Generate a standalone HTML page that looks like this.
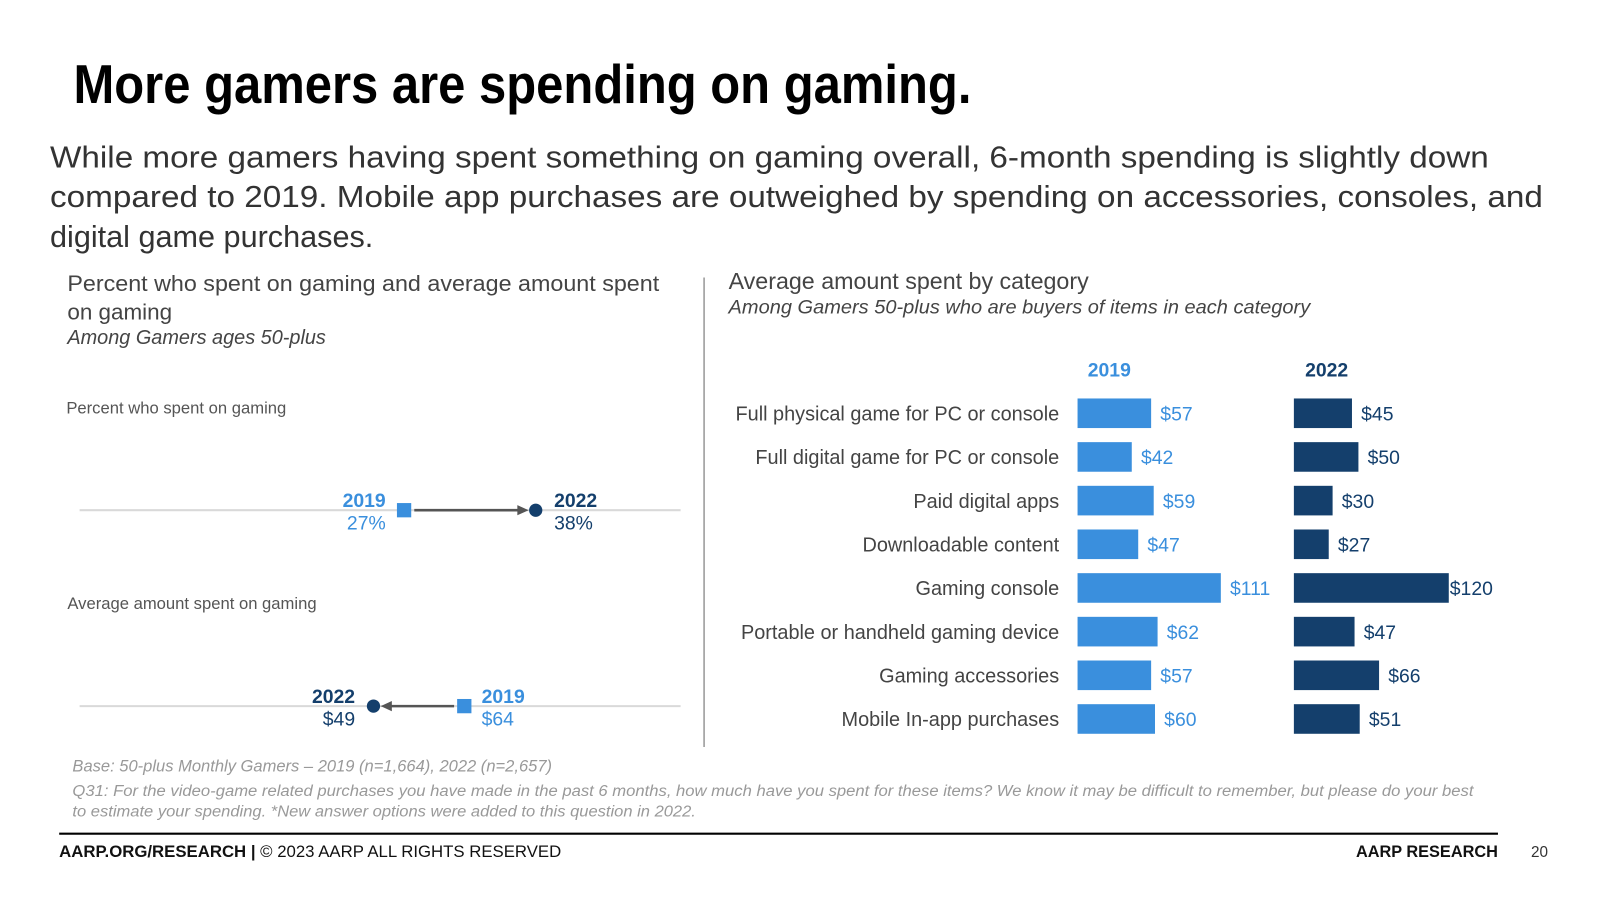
<!DOCTYPE html>
<html><head><meta charset="utf-8">
<style>
html,body{margin:0;padding:0;background:#fff;}
svg{display:block;font-family:"Liberation Sans",Arial,sans-serif;}
</style></head>
<body>
<svg id="slide" width="1600" height="900" viewBox="0 0 1568 882" preserveAspectRatio="none">
<text x="72" y="101" font-size="54" font-weight="bold" fill="#000" textLength="880" lengthAdjust="spacingAndGlyphs">More gamers are spending on gaming.</text>
<g font-size="30" fill="#333">
<text x="49" y="164" textLength="1410" lengthAdjust="spacingAndGlyphs">While more gamers having spent something on gaming overall, 6-month spending is slightly down</text>
<text x="49" y="203" textLength="1463" lengthAdjust="spacingAndGlyphs">compared to 2019. Mobile app purchases are outweighed by spending on accessories, consoles, and</text>
<text x="49" y="242">digital game purchases.</text>
</g>
<g>
<text x="66" y="285" font-size="22" fill="#444" textLength="580" lengthAdjust="spacingAndGlyphs">Percent who spent on gaming and average amount spent</text>
<text x="66" y="313" font-size="22" fill="#444">on gaming</text>
<text x="66" y="337" font-size="19.5" font-style="italic" fill="#444">Among Gamers ages 50-plus</text>
</g>
<line x1="690" y1="272" x2="690" y2="732" stroke="#999" stroke-width="1.5"/>
<g>
<text x="714" y="283" font-size="22.8" fill="#444">Average amount spent by category</text>
<text x="714" y="307" font-size="19" font-style="italic" fill="#444" textLength="570" lengthAdjust="spacingAndGlyphs">Among Gamers 50-plus who are buyers of items in each category</text>
</g>
<g id="dumbbells"></g>
<g id="bars"></g>
<g font-size="16" font-style="italic" fill="#999">
<text x="71" y="756" textLength="470" lengthAdjust="spacingAndGlyphs">Base: 50-plus Monthly Gamers – 2019 (n=1,664), 2022 (n=2,657)</text>
<text x="71" y="780" font-size="15" textLength="1373" lengthAdjust="spacingAndGlyphs">Q31: For the video-game related purchases you have made in the past 6 months, how much have you spent for these items?  We know it may be difficult to remember, but please do your best</text>
<text x="71" y="800" font-size="15" textLength="611" lengthAdjust="spacingAndGlyphs">to estimate your spending. *New answer options were added to this question in 2022.</text>
</g>
<line x1="58" y1="817" x2="1468" y2="817" stroke="#000" stroke-width="2"/>
<text x="58" y="840" font-size="16" fill="#111" textLength="492" lengthAdjust="spacingAndGlyphs"><tspan font-weight="bold">AARP.ORG/RESEARCH | </tspan>© 2023 AARP ALL RIGHTS RESERVED</text>
<text x="1468" y="840" font-size="16" font-weight="bold" fill="#111" text-anchor="end">AARP RESEARCH</text>
<text x="1517" y="840" font-size="15" fill="#333" text-anchor="end">20</text>
</svg>
<script>
const NS='http://www.w3.org/2000/svg';
const C19='#3a8fdd', C22='#143f6c';
// Dumbbell data
const dumbTitles=['Percent who spent on gaming','Average amount spent on gaming'];
const dumb2019=[27,64];
const dumb2022=[38,49];
const dumbLabels2019=['27%','$64'];
const dumbLabels2022=['38%','$49'];
// Bar chart data
const categories=['Full physical game for PC or console','Full digital game for PC or console','Paid digital apps','Downloadable content','Gaming console','Portable or handheld gaming device','Gaming accessories','Mobile In-app purchases'];
const values2019=[57,42,59,47,111,62,57,60];
const values2022=[45,50,30,27,120,47,66,51];

function mk(tag,attrs,parent,txt){const e=document.createElementNS(NS,tag);for(const k in attrs)e.setAttribute(k,attrs[k]);if(txt!==undefined)e.textContent=txt;parent.appendChild(e);return e;}

// dumbbells
const dg=document.getElementById('dumbbells');
const dumbCfg=[{ty:400,ly:500,x0:396,scale:(525-396)/11},{ty:592,ly:692,x0:455,scale:(455-366)/15}];
dumbTitles.forEach((t,i)=>{
  const c=dumbCfg[i];
  const g=mk('g',{},dg);
  
  
  const tt=mk('text',{x:i===0?65:66,y:c.ty+5,'font-size':16.3,fill:'#555'},g,t);
  
  
  const x19=c.x0, x22=c.x0+(dumb2022[i]-dumb2019[i])*c.scale;
  const ln=mk('line',{x1:78,y1:c.ly,x2:667,y2:c.ly,stroke:'#d9d9d9','stroke-width':2},g);
  
  
  const dir=Math.sign(x22-x19);
  const a1=x19+dir*10, a2=x22-dir*7;
  mk('line',{x1:a1,y1:c.ly,x2:a2-dir*8,y2:c.ly,stroke:'#555','stroke-width':2.5},g);
  const ah=mk('polygon',{points:`${a2},${c.ly} ${a2-dir*11},${c.ly-5} ${a2-dir*11},${c.ly+5}`,fill:'#555'},g);
  
  
  const sq=mk('rect',{x:x19-7,y:c.ly-7,width:14,height:14,fill:C19},g);
  
  
  const ci=mk('circle',{cx:x22,cy:c.ly,r:6.5,fill:C22},g);
  
  
  const lab=(x,anchor,col,yr,val,name)=>{
    const l=mk('text',{x:x,y:c.ly-3,'font-size':19,'font-weight':'bold',fill:col,'text-anchor':anchor},g,yr);
    
    
    const v=mk('text',{x:x,y:c.ly+19,'font-size':19,fill:col,'text-anchor':anchor},g,val);
    
    
  };
  if(dir>0){lab(x19-18,'end',C19,'2019',dumbLabels2019[i],'label-2019');lab(x22+18,'start',C22,'2022',dumbLabels2022[i],'label-2022');}
  else{lab(x22-18,'end',C22,'2022',dumbLabels2022[i],'label-2022');lab(x19+17,'start',C19,'2019',dumbLabels2019[i],'label-2019');}
});

// bars
const bg=document.getElementById('bars');
const X19=1056, X22=1268, S=1.265, Y0=405, STEP=42.8, BH=29;
const h1=mk('text',{x:1066,y:369,'font-size':19,'font-weight':'bold',fill:C19},bg,'2019');


const h2=mk('text',{x:1279,y:369,'font-size':19,'font-weight':'bold',fill:C22},bg,'2022');


categories.forEach((cat,i)=>{
  const cy=Y0+i*STEP;
  const l=mk('text',{x:1038,y:cy+7,'font-size':19.5,fill:'#444','text-anchor':'end'},bg,cat);
  
  
  const w1=values2019[i]*S, w2=values2022[i]*S;
  const r1=mk('rect',{x:X19,y:cy-BH/2,width:w1,height:BH,fill:C19},bg);
  
  
  const t1=mk('text',{x:X19+w1+9,y:cy+7,'font-size':19,fill:C19},bg,'$'+values2019[i]);
  
  
  const r2=mk('rect',{x:X22,y:cy-BH/2,width:w2,height:BH,fill:C22},bg);
  
  
  const t2=mk('text',{x:X22+w2+(values2022[i]>=100?1:9),y:cy+7,'font-size':19,fill:C22},bg,'$'+values2022[i]);
  
  
});
</script>
</body></html>
